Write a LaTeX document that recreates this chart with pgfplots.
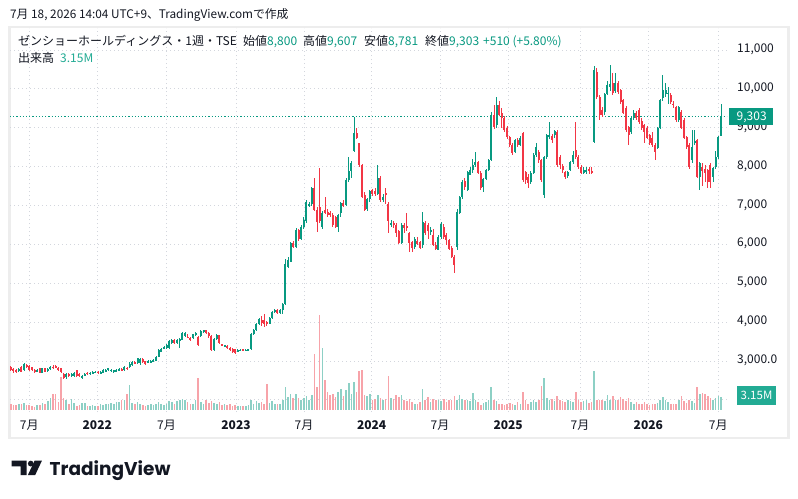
\documentclass[border=0pt]{standalone}
\usepackage{fontspec}
\setmainfont{Noto Sans CJK JP}
\newfontfamily\logofont{Poppins}
\usepackage{pgfplots}
\usepackage{pgfplotstable}
\pgfplotsset{compat=1.18}
\definecolor{upc}{HTML}{089981}
\definecolor{dnc}{HTML}{F23645}
\definecolor{vup}{HTML}{8DD0C5}
\definecolor{vdn}{HTML}{F7A3A9}
\definecolor{gridc}{HTML}{D3D6DD}
\definecolor{txt}{HTML}{131722}
\definecolor{framec}{HTML}{EDEDED}
\definecolor{volbox}{HTML}{22AB94}
\newcommand\fs{\fontsize{12bp}{14bp}\selectfont}
\pgfplotstableread{
w o h l c v
-7 2846 2880 2750 2768 1.4
-6 2790 2810 2700 2770 1.3
-5 2770 2790 2690 2720 1.2
-4 2740 2820 2720 2800 1.4
-3 2850 2870 2720 2730 1.4
-2 2760 2950 2740 2920 1.8
-1 2890 2920 2820 2840 1.2
0 2870 2890 2750 2770 1.3
1 2840 2850 2740 2770 1.0
2 2770 2790 2700 2730 0.8
3 2740 2790 2720 2760 1.2
4 2810 2830 2680 2690 1.2
5 2690 2830 2680 2820 1.8
6 2810 2830 2710 2730 1.4
7 2740 2810 2720 2800 2.2
8 2790 2870 2770 2850 3.0
9 2850 2900 2800 2820 3.9
10 2880 2900 2810 2830 3.9
11 2830 2850 2740 2760 2.0
12 2810 2820 2700 2730 8.3
13 2670 2700 2530 2560 3.1
14 2580 2690 2540 2670 2.5
15 2660 2680 2580 2610 1.6
16 2620 2680 2600 2660 2.8
17 2620 2720 2600 2700 1.7
18 2760 2780 2600 2620 1.0
19 2660 2680 2600 2620 1.2
20 2590 2630 2550 2610 1.8
21 2630 2680 2610 2660 1.7
22 2700 2720 2640 2660 1.0
23 2660 2720 2640 2700 1.0
24 2680 2740 2660 2720 1.2
25 2700 2740 2690 2720 1.0
26 2720 2740 2670 2690 1.0
27 2680 2740 2660 2720 1.4
28 2700 2790 2690 2770 1.2
29 2730 2790 2720 2770 1.4
30 2770 2830 2750 2810 1.6
31 2750 2790 2730 2770 1.8
32 2720 2780 2700 2760 1.4
33 2750 2790 2730 2760 2.0
34 2760 2810 2740 2790 2.1
35 2790 2810 2740 2760 2.6
36 2760 2870 2750 2850 2.6
37 2830 2850 2780 2800 3.9
38 2850 2980 2830 2920 6.1
39 2900 3000 2880 2980 1.8
40 2980 3000 2920 2940 1.6
41 2940 3090 2930 3070 2.0
42 2950 3080 2900 3060 1.4
43 3060 3080 2960 2980 1.2
44 3000 3010 2900 2920 1.0
45 2980 3020 2960 2990 1.2
46 2960 3030 2950 3010 1.5
47 2980 3050 2970 3030 1.3
48 3010 3130 3000 3110 1.6
49 3110 3300 3100 3280 2.0
50 3240 3340 3220 3320 1.5
51 3320 3380 3300 3360 1.3
52 3330 3440 3310 3420 1.6
53 3330 3530 3320 3510 2.3
54 3470 3570 3450 3550 2.0
55 3550 3560 3450 3470 1.4
56 3470 3570 3450 3550 2.2
57 3540 3580 3330 3560 2.6
58 3540 3740 3530 3720 2.8
59 3650 3740 3630 3720 2.6
60 3620 3700 3580 3600 2.0
61 3600 3620 3510 3530 1.6
62 3580 3700 3560 3690 1.6
63 3660 3740 3640 3720 2.4
64 3620 3640 3380 3410 7.9
65 3640 3790 3620 3770 2.0
66 3740 3810 3720 3790 1.6
67 3790 3800 3700 3720 2.4
68 3720 3740 3600 3640 1.8
69 3650 3660 3250 3280 2.3
70 3280 3580 3260 3560 1.7
71 3560 3700 3540 3660 1.5
72 3660 3680 3440 3460 1.9
73 3430 3450 3380 3410 1.3
74 3380 3420 3360 3400 1.5
75 3380 3400 3310 3330 1.2
76 3340 3360 3270 3300 1.4
77 3310 3330 3210 3230 1.0
78 3300 3320 3190 3210 1.2
79 3230 3310 3220 3290 0.9
80 3270 3320 3250 3290 1.1
81 3300 3320 3260 3280 1.0
82 3270 3310 3250 3290 1.0
83 3280 3320 3270 3300 1.2
84 3300 3710 3290 3690 2.6
85 3690 3820 3670 3800 1.6
86 3800 3970 3780 3950 2.2
87 3950 4110 3930 4090 1.8
88 4060 4150 3900 3980 2.0
89 4050 4200 3880 3950 1.6
90 4000 4040 3900 3960 6.4
91 3960 4120 3940 4100 1.8
92 4100 4280 4080 4260 2.2
93 4260 4330 4240 4300 1.5
94 4320 4340 4200 4230 1.4
95 4230 4340 4210 4320 1.6
96 4320 4490 4210 4470 2.6
97 4470 5620 4450 5500 5.6
98 5420 5680 5400 5600 3.2
99 5560 6060 5550 6040 4.0
100 6040 6080 5900 5940 3.0
101 5940 6420 5900 6370 4.0
102 6370 6400 6080 6150 3.0
103 6150 6500 6120 6450 2.6
104 6450 6700 6400 6620 3.0
105 6600 7150 6550 7080 3.4
106 7000 7100 6950 7050 2.5
107 7050 7480 7000 7450 3.8
108 7450 7700 6850 6880 14.0
109 6880 6950 6320 6580 5.8
110 6960 7970 6550 6600 23.6
111 6450 6850 6400 6800 15.5
112 6880 7220 6780 6820 7.4
113 6830 6900 6700 6750 4.5
114 6800 6850 6700 6780 3.7
115 6750 6800 6450 6500 4.0
116 6700 6720 6420 6440 3.2
117 6440 6780 6330 6750 4.5
118 6800 7100 6700 7070 5.2
119 7070 7150 6950 7000 3.5
120 7010 7700 6980 7650 5.0
121 7650 8250 7600 7900 6.8
122 7900 8150 7700 8100 4.0
123 8400 9280 8380 8870 7.0
124 8870 9000 8700 8740 4.5
125 8600 8620 8000 8050 9.7
126 8050 8080 7200 7220 10.0
127 7270 7350 6850 6880 3.7
128 6900 7200 6850 7170 3.5
129 7170 7400 7100 7370 4.0
130 7400 7420 7250 7300 2.5
131 7380 7450 7250 7300 2.7
132 7300 8040 7280 7700 3.8
133 7700 7750 7100 7140 3.0
134 7140 7300 7100 7230 2.4
135 7320 7450 7050 7280 2.8
136 7050 7100 6300 6600 8.4
137 6500 6620 6450 6560 3.0
138 6560 6600 6420 6500 2.8
139 6500 6550 6200 6300 3.7
140 6350 6380 6000 6030 3.2
141 6030 6550 6000 6500 3.7
142 6500 6560 6300 6420 2.5
143 6480 6800 6350 6420 2.2
144 6290 6320 5800 6030 2.8
145 6050 6100 5800 5920 2.0
146 5930 6200 5880 6140 1.5
147 6100 6200 5980 6000 1.4
148 6050 6100 5880 5920 2.0
149 5980 6830 5900 6580 5.2
150 6550 6600 6250 6290 2.5
151 6500 6550 6150 6350 3.2
152 6330 6450 6250 6380 2.0
153 6240 6400 5950 5980 2.8
154 5980 6050 5850 5880 2.4
155 5860 6230 5850 6190 2.6
156 6190 6580 6150 6530 2.2
157 6450 6520 6150 6190 2.8
158 6250 6300 5980 6110 2.0
159 6110 6150 5850 5880 2.4
160 5900 5950 5650 5680 2.6
161 5680 5720 5260 5470 3.4
162 5940 6900 5850 6830 2.6
163 6800 7250 6780 7220 3.6
164 7220 7650 7180 7610 2.8
165 7630 7700 7400 7470 2.4
166 7400 7900 7380 7860 2.6
167 7790 7990 7780 7920 2.2
168 7920 8200 7850 8040 4.3
169 8040 8380 8000 8120 2.5
170 8120 8150 7800 7840 2.0
171 7840 7880 7400 7450 1.2
172 7480 7700 7350 7680 1.8
173 7680 7950 7650 7920 2.0
174 7920 8200 7900 8170 2.6
175 8170 9400 8150 9330 5.8
176 9330 9590 8980 9020 2.6
177 9070 9790 9000 9590 2.2
178 9590 9700 9300 9330 1.6
179 9380 9500 9000 9250 1.4
180 9250 9300 8900 8950 1.2
181 9000 9050 8700 8760 1.6
182 8760 8800 8500 8560 1.8
183 8560 8600 8300 8350 1.4
184 8380 8720 8350 8690 1.2
185 8690 8750 8500 8560 2.0
186 8560 8800 8520 8740 1.4
187 8870 8900 7600 7660 4.5
188 7860 7900 7550 7660 2.5
189 7740 7800 7450 7570 1.6
190 7610 7900 7550 7840 2.0
191 7840 8350 7800 8300 2.4
192 8300 8600 8250 8510 2.0
193 8380 8420 8100 8170 2.6
194 8170 8200 7600 7660 6.0
195 7270 8280 7190 8250 7.9
196 8250 8850 8200 8810 3.0
197 8780 9150 8700 8820 2.4
198 8800 8850 8600 8690 2.8
199 8810 8950 8750 8920 2.2
200 8890 8950 8000 8040 3.5
201 8250 8300 7950 8040 2.6
202 8020 8080 7850 7910 2.2
203 7860 7900 7680 7730 2.0
204 7760 7900 7700 7860 2.4
205 7910 8150 7880 8120 2.2
206 8120 8400 8080 8300 2.0
207 8430 9150 8200 8250 4.5
208 8250 8300 7950 7990 2.4
209 7990 8050 7800 7840 2.0
210 7840 7980 7800 7920 2.2
211 7880 8000 7820 7920 2.4
212 7930 8000 7820 7880 1.8
213 7900 7980 7800 7850 2.0
214 8640 10600 8600 10490 9.8
215 10440 10550 9750 9790 2.5
216 9790 9850 9200 9330 2.6
217 9450 9540 9280 9330 2.4
218 9400 9900 9330 9880 2.2
219 9880 10200 9850 10100 3.7
220 10050 10620 9950 10120 2.6
221 10150 10410 9850 9900 3.5
222 9950 10410 9900 10150 2.6
223 10150 10200 9880 9920 2.4
224 9970 10000 9600 9660 3.2
225 9710 9750 9350 9380 2.8
226 9510 9550 8900 8940 2.2
227 9020 9050 8560 8810 3.0
228 8900 9280 8850 9250 2.0
229 9250 9460 9200 9380 1.6
230 9380 9420 9200 9250 2.0
231 9460 9500 9100 9150 1.4
232 9180 9250 8950 8990 1.6
233 9070 9100 8600 8890 2.0
234 9000 9050 8700 8750 1.4
235 8810 8850 8550 8610 1.3
236 8750 8900 8500 8560 1.6
237 8560 8600 8170 8380 1.4
238 8480 9020 8450 9000 1.8
239 9000 9750 8980 9710 2.4
240 9770 10360 9700 9970 3.2
241 9880 10150 9800 9970 2.6
242 9870 10050 9600 9900 2.0
243 9840 9900 9620 9660 1.6
244 9620 9700 9520 9590 1.4
245 9540 9560 9150 9200 1.6
246 9200 9560 9150 9540 2.4
247 9400 9450 8980 9000 3.5
248 9200 9250 8700 8740 2.2
249 8760 8800 8450 8510 1.8
250 8560 8600 7950 7990 2.6
251 8170 8940 8100 8510 2.2
252 8600 8940 8550 8650 1.8
253 8690 8700 7700 7730 5.8
254 7730 8120 7400 8090 4.0
255 8000 8100 7500 7900 4.2
256 7950 8050 7600 7850 3.9
257 7910 7950 7450 7610 3.5
258 8040 8100 7450 7610 3.0
259 7730 8000 7600 7970 2.6
260 7990 8400 7950 8250 3.0
261 8250 8800 8200 8760 3.4
262 8800 9607 8781 9303 3.15
}\data
\pgfplotsset{
  candle/.style={draw=none, mark=none, forget plot, restrict y to domain=0:50000,
    error bars/y dir=both, error bars/y explicit, error bars/error mark=none},
  vol/.style={draw=none, mark=none, forget plot, restrict y to domain=0:1000,
    error bars/y dir=both, error bars/y explicit, error bars/error mark=none},
}
\begin{document}
\begin{tikzpicture}[x=1bp,y=1bp]
\path[use as bounding box, fill=white] (0,0) rectangle (798,-499);
\draw[framec, line width=2.5bp] (9.5,-27) rectangle (788.5,-438);
\node[anchor=base west, inner sep=0pt, text=txt] at (10,-18.5) {\fontsize{11.8bp}{14bp}\selectfont 7月 18, 2026 14:04 UTC+9、TradingView.comで作成};
\begin{axis}[at={(10bp,-412bp)}, anchor=south west, scale only axis,
  width=717bp, height=384bp,
  xmin=-7.31, xmax=264.3, ymin=1688, ymax=11568,
  scaled ticks=false,
  axis line style={draw=none}, major tick length=0pt,
  /pgf/number format/assume math mode=true,
  grid=major, major grid style={gridc, line width=0.9bp, dash pattern=on 1bp off 3bp},
  xtick={0,25.76,52,78.3,104.05,129.7,155.6,181.4,208.6,234.5,261},
  xticklabels={7月,\textbf{2022},7月,\textbf{2023},7月,\textbf{2024},7月,\textbf{2025},7月,\textbf{2026},7月},
  xticklabel style={anchor=base, yshift=-17.5bp, inner sep=0pt, text=txt, font=\fs},
  ytick={2000,3000,4000,5000,6000,7000,8000,9000,10000,11000},
  yticklabels={,{3,000.0},{4,000},{5,000},{6,000},{7,000},{8,000},{9,000},{10,000},{11,000}},
  yticklabel pos=right,
  yticklabel style={anchor=base west, xshift=10bp, yshift=-2.5bp, inner sep=0pt, text=txt, font=\fs},
]
\addplot[upc, line width=1bp, dash pattern=on 1.2bp off 2bp, forget plot] coordinates {(-7.31,9303) (264.3,9303)};
% wicks
\addplot[candle, error bars/error bar style={draw=upc, line width=0.8bp}]
  table[x=w, y expr={\thisrow{c}<\thisrow{o} ? -100 : 0.5*(\thisrow{h}+\thisrow{l})}, y error expr={0.5*(\thisrow{h}-\thisrow{l})}] {\data};
\addplot[candle, error bars/error bar style={draw=dnc, line width=0.8bp}]
  table[x=w, y expr={\thisrow{c}<\thisrow{o} ? 0.5*(\thisrow{h}+\thisrow{l}) : -100}, y error expr={0.5*(\thisrow{h}-\thisrow{l})}] {\data};
% bodies
\addplot[candle, error bars/error bar style={draw=upc, line width=2bp}]
  table[x=w, y expr={\thisrow{c}<\thisrow{o} ? -100 : 0.5*(\thisrow{o}+\thisrow{c})}, y error expr={0.5*abs(\thisrow{c}-\thisrow{o})}] {\data};
\addplot[candle, error bars/error bar style={draw=dnc, line width=2bp}]
  table[x=w, y expr={\thisrow{c}<\thisrow{o} ? 0.5*(\thisrow{o}+\thisrow{c}) : -100}, y error expr={0.5*abs(\thisrow{c}-\thisrow{o})}] {\data};
\end{axis}
\begin{axis}[at={(10bp,-412bp)}, anchor=south west, scale only axis,
  width=717bp, height=384bp, hide axis,
  xmin=-7.31, xmax=264.3, ymin=-0.5, ymax=94.8]
\addplot[vol, error bars/error bar style={draw=vup, line width=1.6bp}]
  table[x=w, y expr={\thisrow{c}<\thisrow{o} ? -100 : 0.5*\thisrow{v}}, y error expr={0.5*\thisrow{v}}] {\data};
\addplot[vol, error bars/error bar style={draw=vdn, line width=1.6bp}]
  table[x=w, y expr={\thisrow{c}<\thisrow{o} ? 0.5*\thisrow{v} : -100}, y error expr={0.5*\thisrow{v}}] {\data};
\end{axis}
% legend
\node[anchor=base west, inner sep=0pt, text=txt] at (18,-45.5) {\fs ゼンショーホールディングス・1週・TSE};
\node[anchor=base west, inner sep=0pt, text=txt] at (243,-45.5) {\fs 始値\textcolor{upc}{8,800}};
\node[anchor=base west, inner sep=0pt, text=txt] at (303,-45.5) {\fs 高値\textcolor{upc}{9,607}};
\node[anchor=base west, inner sep=0pt, text=txt] at (364,-45.5) {\fs 安値\textcolor{upc}{8,781}};
\node[anchor=base west, inner sep=0pt, text=txt] at (425,-45.5) {\fs 終値\textcolor{upc}{9,303}};
\node[anchor=base west, inner sep=0pt, text=upc] at (483,-45.5) {\fs +510 (+5.80\%)};
\node[anchor=base west, inner sep=0pt, text=txt] at (18,-62.5) {\fs 出来高};
\node[anchor=base west, inner sep=0pt, text=volbox] at (60,-62.5) {\fs 3.15M};
% price labels
\fill[upc] (729,-108) rectangle (773,-125);
\node[anchor=base west, inner sep=0pt, text=white] at (736.5,-120.8) {\fs 9,303};
\fill[volbox] (737,-386) rectangle (776,-405);
\node[anchor=base, inner sep=0pt, text=white] at (756.5,-399.8) {\fontsize{11.5bp}{13bp}\selectfont 3.15M};
% logo
\fill[txt] (11.7,-460.7) -- (26.7,-460.7) -- (26.7,-475) -- (20.7,-475) -- (20.7,-466.3) -- (11.7,-466.3) -- cycle;
\fill[txt] (30.8,-463.6) circle (2.9);
\fill[txt] (34.6,-460.7) -- (41.9,-460.7) -- (35.2,-475) -- (27.9,-475) -- cycle;
\node[anchor=base west, inner sep=0pt, text=txt] at (49.5,-475) {\logofont\fontsize{18.5bp}{20bp}\selectfont\bfseries TradingView};
\end{tikzpicture}
\end{document}
